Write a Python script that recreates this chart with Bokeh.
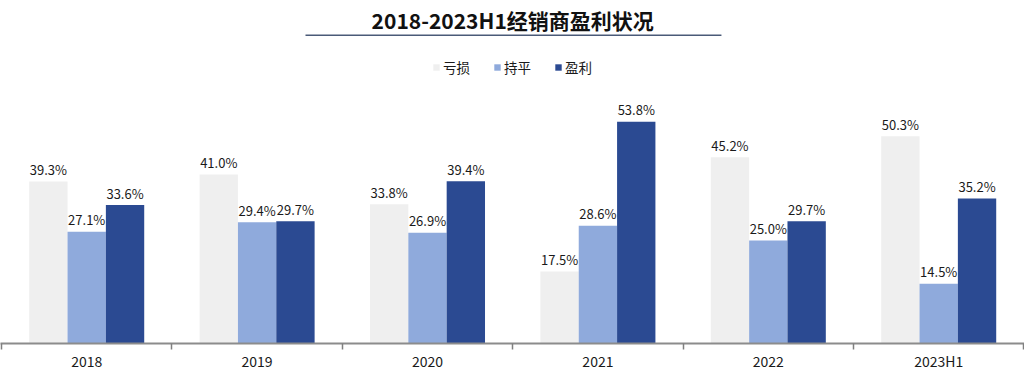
from bokeh.plotting import figure
from bokeh.models import (ColumnDataSource, Range1d, LinearAxis, FixedTicker,
                          Legend, LegendItem, Label)
from bokeh.core.properties import value
from bokeh.embed import file_html
from bokeh.resources import INLINE

title_text = "2018-2023H1经销商盈利状况"
categories = ["2018", "2019", "2020", "2021", "2022", "2023H1"]
series_names = ["亏损", "持平", "盈利"]
loss = [39.3, 41.0, 33.8, 17.5, 45.2, 50.3]
even = [27.1, 29.4, 26.9, 28.6, 25.0, 14.5]
profit = [33.6, 29.7, 39.4, 53.8, 29.7, 35.2]
colors = ["#EFEFEF", "#8FAADC", "#2B4A92"]

FONT = "Noto Sans CJK SC"
bar_w = 0.225
offsets = [-bar_w, 0.0, bar_w]

p = figure(width=1024, height=373, output_backend="svg", toolbar_location=None,
           x_range=Range1d(-0.0059, 6.0035), y_range=Range1d(0, 83.25),
           min_border_left=0, min_border_right=0, min_border_top=0,
           min_border_bottom=30, x_axis_location=None, y_axis_location=None)
p.outline_line_color = None
p.xgrid.visible = False
p.ygrid.visible = False
p.background_fill_color = "white"
p.border_fill_color = "white"

renderers = []
for name, vals, col, off in zip(series_names, [loss, even, profit], colors, offsets):
    xs = [i + 0.5 + off for i in range(len(categories))]
    src = ColumnDataSource(dict(x=xs, top=vals,
                                lbl=[f"{v:.1f}%" for v in vals]))
    r = p.vbar(x="x", top="top", bottom=0, width=bar_w, source=src,
               fill_color=col, line_color=None)
    renderers.append((name, r))
    p.text(x="x", y="top", text="lbl", source=src, text_align="center",
           text_baseline="alphabetic", y_offset=-12,
           text_font=value(FONT), text_font_size="13px", text_color="#1a1a1a")

# x axis with category labels at centers, boundary ticks as minor ticks
centers = [i + 0.5 for i in range(len(categories))]
xaxis = LinearAxis(ticker=FixedTicker(ticks=centers,
                                      minor_ticks=list(range(len(categories) + 1))))
xaxis.major_label_overrides = {c: lab for c, lab in zip(centers, categories)}
xaxis.major_tick_line_color = None
xaxis.major_tick_in = 0
xaxis.major_tick_out = 0
xaxis.minor_tick_in = 0
xaxis.minor_tick_out = 6
xaxis.minor_tick_line_color = "#7f7f7f"
xaxis.minor_tick_line_width = 1.5
xaxis.axis_line_color = "#8c8c8c"
xaxis.axis_line_width = 2
xaxis.major_label_standoff = 1
xaxis.major_label_text_font = FONT
xaxis.major_label_text_font_size = "14px"
xaxis.major_label_text_color = "#1a1a1a"
p.add_layout(xaxis, "below")

# title and underline
p.add_layout(Label(x=3.0, y=78.4, text=title_text, text_align="center",
                   text_baseline="middle", text_font=FONT,
                   text_font_size="21px", text_font_style="bold",
                   text_color="#111111"))
p.segment(x0=[1.784], y0=[74.8], x1=[4.225], y1=[74.8],
          line_color="#4a5a78", line_width=1.5)

legend = Legend(items=[LegendItem(label=n, renderers=[r]) for n, r in renderers],
                orientation="horizontal", location="top_center",
                glyph_width=8, glyph_height=8, label_standoff=3, spacing=23,
                padding=0, margin=57, border_line_color=None,
                background_fill_alpha=0,
                label_text_font=FONT, label_text_font_size="13.5px",
                label_text_color="#1a1a1a")
p.add_layout(legend, "center")

open("out.html", "w").write(file_html(p, INLINE))
